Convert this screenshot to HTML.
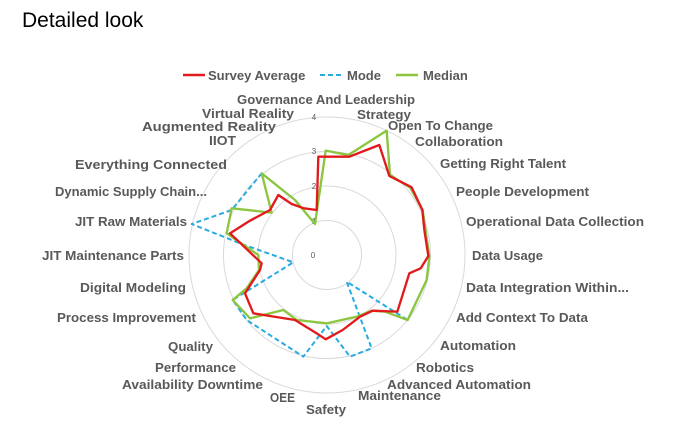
<!DOCTYPE html>
<html><head><meta charset="utf-8"><style>body{margin:0;background:#fff}svg{display:block}</style></head><body>
<svg width="679" height="427" viewBox="0 0 679 427" xmlns="http://www.w3.org/2000/svg" font-family="Liberation Sans, sans-serif">
<rect width="679" height="427" fill="#fff"/>
<text x="22" y="27" font-size="21" fill="#000">Detailed look</text>
<g font-size="13" font-weight="bold" fill="#595959">
<line x1="183" y1="75" x2="205" y2="75" stroke="#e31a1c" stroke-width="2.5"/><text x="208" y="80">Survey Average</text>
<line x1="320" y1="75" x2="342" y2="75" stroke="#29abe2" stroke-width="2" stroke-dasharray="5,3"/><text x="347" y="80">Mode</text>
<line x1="396" y1="75" x2="418" y2="75" stroke="#8cc63f" stroke-width="2.5"/><text x="423" y="80">Median</text>
</g>
<g fill="none" stroke="#d9d9d9" stroke-width="1">
<circle cx="327" cy="255" r="34.5"/><circle cx="327" cy="255" r="69"/><circle cx="327" cy="255" r="103.5"/><circle cx="327" cy="255" r="138"/>
</g>
<g font-size="8" fill="#595959" text-anchor="middle">
<text x="314" y="120">4</text><text x="314" y="154">3</text><text x="314" y="189">2</text><text x="314" y="224">1</text><text x="313" y="258">0</text>
</g>
<g transform="translate(180,100) scale(0.33333)" fill="none" stroke-linejoin="round">
<polygon stroke="#29abe2" stroke-width="6" stroke-dasharray="15,9" points="405,372 437,152 505,165 620,92 630,225 690,262 728,330 735,380 748,470 740,540 683,660 500,545 575,745 510,770 440,678 370,770 200,660 158,600 340,487 180,430 35,372 155,330 245,220 345,300"/>
<polygon stroke="#8cc63f" stroke-width="7" points="405,372 437,152 505,165 620,92 630,225 690,262 728,330 735,380 748,470 740,540 683,660 615,635 575,632 530,650 440,670 350,660 310,630 210,655 158,600 200,565 237,510 235,465 140,400 155,325 275,338 245,220 345,300"/>
<polygon stroke="#e31a1c" stroke-width="7" points="410,330 415,170 508,170 598,135 628,228 695,262 727,330 733,390 745,468 722,505 688,520 652,635 578,632 540,650 488,690 437,718 410,700 345,660 220,640 195,580 240,510 245,490 150,400 210,362 270,330 295,285 335,312 372,325"/>
</g>
<g font-size="13" font-weight="bold" fill="#595959">
<text x="237" y="104" textLength="178" lengthAdjust="spacingAndGlyphs">Governance And Leadership</text>
<text x="202" y="118" textLength="92" lengthAdjust="spacingAndGlyphs">Virtual Reality</text>
<text x="357" y="119" textLength="54" lengthAdjust="spacingAndGlyphs">Strategy</text>
<text x="142" y="131" textLength="134" lengthAdjust="spacingAndGlyphs">Augmented Reality</text>
<text x="388" y="130" textLength="105" lengthAdjust="spacingAndGlyphs">Open To Change</text>
<text x="209" y="145" textLength="27" lengthAdjust="spacingAndGlyphs">IIOT</text>
<text x="415" y="146" textLength="88" lengthAdjust="spacingAndGlyphs">Collaboration</text>
<text x="75" y="169" textLength="152" lengthAdjust="spacingAndGlyphs">Everything Connected</text>
<text x="440" y="168" textLength="126" lengthAdjust="spacingAndGlyphs">Getting Right Talent</text>
<text x="55" y="196" textLength="152" lengthAdjust="spacingAndGlyphs">Dynamic Supply Chain...</text>
<text x="456" y="196" textLength="133" lengthAdjust="spacingAndGlyphs">People Development</text>
<text x="75" y="226" textLength="112" lengthAdjust="spacingAndGlyphs">JIT Raw Materials</text>
<text x="466" y="226" textLength="178" lengthAdjust="spacingAndGlyphs">Operational Data Collection</text>
<text x="42" y="260" textLength="142" lengthAdjust="spacingAndGlyphs">JIT Maintenance Parts</text>
<text x="472" y="260" textLength="71" lengthAdjust="spacingAndGlyphs">Data Usage</text>
<text x="80" y="292" textLength="106" lengthAdjust="spacingAndGlyphs">Digital Modeling</text>
<text x="466" y="292" textLength="163" lengthAdjust="spacingAndGlyphs">Data Integration Within...</text>
<text x="57" y="322" textLength="139" lengthAdjust="spacingAndGlyphs">Process Improvement</text>
<text x="456" y="322" textLength="132" lengthAdjust="spacingAndGlyphs">Add Context To Data</text>
<text x="168" y="351" textLength="45" lengthAdjust="spacingAndGlyphs">Quality</text>
<text x="440" y="350" textLength="76" lengthAdjust="spacingAndGlyphs">Automation</text>
<text x="155" y="372" textLength="81" lengthAdjust="spacingAndGlyphs">Performance</text>
<text x="416" y="372" textLength="58" lengthAdjust="spacingAndGlyphs">Robotics</text>
<text x="122" y="389" textLength="141" lengthAdjust="spacingAndGlyphs">Availability Downtime</text>
<text x="387" y="389" textLength="144" lengthAdjust="spacingAndGlyphs">Advanced Automation</text>
<text x="270" y="402" textLength="25" lengthAdjust="spacingAndGlyphs">OEE</text>
<text x="358" y="400" textLength="83" lengthAdjust="spacingAndGlyphs">Maintenance</text>
<text x="306" y="414" textLength="40" lengthAdjust="spacingAndGlyphs">Safety</text>
</g>
</svg>
</body></html>
